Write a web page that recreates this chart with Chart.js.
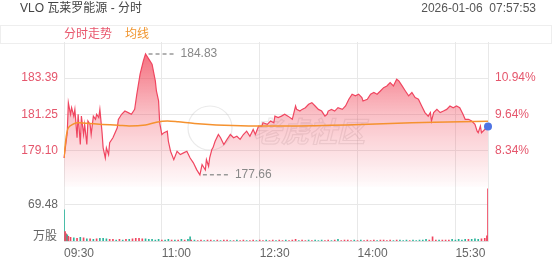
<!DOCTYPE html>
<html>
<head>
<meta charset="utf-8">
<script src="https://cdn.jsdelivr.net/npm/chart.js@4.4.1/dist/chart.umd.min.js"></script>
<style>
  body { margin: 0; background: #fff; }
  #wrap { position: relative; width: 552px; height: 265px; overflow: hidden;
          font-family: Arial, "Liberation Sans", "Noto Sans CJK SC", sans-serif; font-size: 12px; }
  #wrap canvas { position: absolute; left: 0; top: 0; }
  .txt { position: absolute; line-height: 14px; white-space: pre; }
  #tabs { position: absolute; left: 0; top: 25px; width: 550px; height: 17px; border: 1px solid #eee; }
</style>
</head>
<body>
<div id="wrap">
  <div id="tabs"></div>
  <canvas id="chart" width="552" height="265"></canvas>
  <div class="txt" style="left:20px;top:1px;color:#444">VLO 瓦莱罗能源 - 分时</div>
  <div class="txt" style="right:16px;top:1px;color:#555">2026-01-06  07:57:53</div>
  <div class="txt" style="left:64px;top:27px;color:#e8566c">分时走势</div>
  <div class="txt" style="left:125px;top:27px;color:#f0952e">均线</div>
  <div class="txt" style="right:495px;top:229px;color:#666">万股</div>
</div>
<script>
// 分时数据 (minutes after 09:30)
var prevClose = 165.31
var priceTicks = [179.10, 181.25, 183.39]
var volTicks = [69.48]
var xTickLabels = ['09:30', '11:00', '12:30', '14:00', '15:30']

var times = [0, 3, 4, 6, 7, 9, 10, 12, 13, 15, 16, 18, 19, 21, 22, 24, 25, 27, 29, 30,
    32, 33, 35, 36, 38, 39, 41, 42, 45, 49, 50, 53, 56, 59, 62, 65, 67, 70, 73, 75,
    78, 81, 84, 85, 87, 88, 90, 92, 95, 96, 98, 101, 104, 107, 110, 113, 116, 119, 122, 125,
    127, 130, 131, 133, 134, 136, 137, 139, 142, 144, 147, 150, 153, 156, 159, 162, 165, 168, 171, 174,
    176, 179, 182, 183, 187, 190, 193, 194, 197, 200, 203, 206, 210, 213, 214, 217, 219, 222, 225, 228,
    231, 234, 237, 240, 242, 243, 246, 249, 252, 256, 259, 262, 265, 268, 271, 274, 275, 279, 282, 285,
    288, 291, 294, 297, 300, 303, 306, 308, 311, 314, 317, 320, 323, 326, 329, 332, 335, 337, 338, 340,
    343, 346, 349, 352, 355, 358, 361, 364, 367, 369, 372, 375, 378, 380, 381, 383, 384, 387, 390]
var prices = [178.66, 180.16, 181.94, 181.25, 181.64, 181.14, 181.54, 179.86, 181.25, 179.46,
    181.14, 180.05, 180.65, 179.46, 180.85, 180.65, 180.05, 181.14, 180.95, 181.25,
    181.05, 181.54, 180.16, 179.26, 178.66, 179.26, 178.86, 179.56, 179.86, 180.45,
    180.95, 181.25, 181.44, 181.35, 181.25, 181.54, 182.44, 183.63, 184.42, 184.83,
    184.52, 184.22, 183.23, 182.63, 182.04, 180.75, 180.05, 180.16, 180.25, 179.65,
    179.06, 178.56, 179.06, 178.86, 178.96, 179.06, 178.66, 178.37, 177.97, 177.66,
    178.27, 177.95, 178.56, 178.17, 178.66, 179.16, 179.26, 179.65, 180.05, 179.86,
    179.46, 179.76, 180.05, 179.86, 179.95, 179.76, 180.05, 180.25, 179.95, 180.35,
    180.05, 180.55, 180.55, 180.75, 180.65, 180.85, 180.75, 181.14, 181.05, 181.14,
    181.25, 181.14, 180.95, 181.74, 181.54, 181.44, 181.54, 181.64, 181.84, 181.94,
    181.74, 181.54, 181.44, 181.14, 181.25, 181.44, 181.54, 181.44, 181.64, 181.54,
    181.74, 182.14, 182.44, 182.34, 182.44, 182.24, 182.04, 182.14, 182.44, 182.54,
    182.44, 182.63, 182.83, 182.93, 183.13, 182.93, 183.33, 183.23, 182.93, 182.63,
    182.34, 182.54, 182.24, 182.14, 181.74, 181.35, 181.14, 181.35, 180.85, 181.35,
    181.54, 181.35, 181.44, 181.54, 181.74, 181.64, 181.74, 181.64, 181.25, 180.95,
    180.95, 180.85, 180.65, 180.25, 180.16, 180.55, 180.16, 180.35, 180.53]

var avgTimes = [0, 2, 4, 8, 12, 20, 35, 50, 60, 75, 85, 95, 105, 120, 140, 170, 200, 230, 260, 300, 340, 390]
var avgPrices = [178.66, 179.9, 180.45, 180.65, 180.75, 180.72, 180.65, 180.6, 180.55, 180.62, 180.78,
    180.85, 180.8, 180.7, 180.62, 180.56, 180.55, 180.57, 180.62, 180.7, 180.78, 180.83]

var volTimes = [0, 1, 2, 3, 4, 6, 9, 12, 15, 18, 21, 24, 27, 30, 33, 36, 39, 42, 45, 48,
    51, 54, 57, 60, 63, 66, 69, 72, 75, 78, 81, 84, 87, 90, 93, 96, 99, 102, 105, 108,
    111, 114, 116, 117, 120, 123, 126, 129, 132, 135, 138, 141, 144, 147, 150, 153, 156, 159, 162, 165,
    168, 171, 174, 177, 180, 183, 186, 189, 192, 195, 198, 201, 204, 207, 210, 213, 216, 219, 222, 225,
    228, 231, 234, 237, 240, 243, 246, 249, 252, 255, 258, 261, 264, 267, 270, 273, 276, 279, 282, 285,
    288, 291, 294, 297, 300, 303, 306, 309, 312, 315, 318, 321, 324, 327, 330, 333, 336, 339, 342, 345,
    348, 351, 354, 357, 360, 363, 366, 369, 372, 375, 378, 381, 384, 387, 389, 390]
var vols = [60, 18, 14, 12, 9, 7, 6, 5, 7, 6, 4, 4, 3, 4, 5, 5, 4, 3, 3, 2,
    3, 2, 3, 3, 4, 5, 5, 4, 4, 3, 3, 2, 3, 2, 2, 3, 2, 2, 2, 3,
    2, 3, 8, 2, 2, 1, 2, 1, 2, 2, 1, 2, 1, 2, 2, 1, 1, 2, 1, 2,
    1, 1, 2, 1, 2, 1, 2, 1, 2, 1, 2, 1, 2, 1, 2, 3, 1, 2, 1, 2,
    1, 2, 1, 2, 1, 2, 1, 2, 3, 1, 2, 2, 1, 2, 1, 2, 1, 2, 1, 2,
    1, 2, 2, 1, 2, 1, 2, 2, 1, 2, 1, 2, 1, 2, 2, 3, 2, 8, 2, 2,
    2, 2, 2, 3, 2, 3, 2, 3, 3, 3, 4, 3, 4, 5, 10, 100]
// 1 = up (red), 0 = down (green)
var volUp = [0, 1, 1, 0, 1, 1, 0, 1, 0, 1, 0, 1, 0, 1, 0, 0, 0, 1, 1, 0,
    1, 0, 1, 0, 1, 1, 1, 1, 0, 0, 0, 0, 0, 1, 0, 0, 1, 0, 1, 0,
    1, 0, 0, 1, 0, 1, 1, 0, 1, 1, 0, 1, 0, 1, 1, 0, 1, 0, 1, 1,
    0, 1, 1, 0, 1, 1, 0, 1, 1, 0, 1, 1, 0, 1, 1, 1, 0, 1, 1, 0,
    1, 0, 0, 0, 1, 1, 0, 1, 0, 1, 1, 1, 1, 0, 1, 0, 1, 1, 1, 1,
    0, 1, 1, 1, 1, 0, 1, 0, 0, 0, 1, 0, 0, 0, 0, 0, 1, 1, 1, 0,
    1, 1, 1, 0, 0, 0, 0, 0, 1, 0, 0, 0, 1, 1, 1, 1]

var RED = '#f04660'
var GREEN = '#2ab59b'
var GRID = '#e8e8e8'

function tickMinutes(label) {
    var p = label.split(':')
    return +p[0] * 60 + +p[1] - 570
}

var step = (priceTicks[2] - priceTicks[0]) / 2
var priceMin = priceTicks[0] - step
var priceMax = priceTicks[2] + step

function pct(p) { return (p / prevClose - 1) * 100 }

// 高低点标注 + 水印
var markPlugin = {
    id: 'marks',
    beforeDatasetsDraw: function(chart) {
        var c = chart.ctx
        c.save()
        c.strokeStyle = 'rgba(170,170,170,0.25)'
        c.lineWidth = 1.2
        c.beginPath()
        c.arc(210, 128, 22, 0, Math.PI * 2)
        c.stroke()
        c.font = 'italic bold 28px "Noto Sans CJK SC"'
        c.textBaseline = 'middle'
        c.strokeText('老虎社区', 253, 131)
        c.restore()
    },
    afterDatasetsDraw: function(chart) {
        var c = chart.ctx
        var xs = chart.scales.x, ys = chart.scales.y
        var hi = prices.indexOf(Math.max.apply(null, prices))
        var lo = prices.indexOf(Math.min.apply(null, prices))
        c.save()
        c.font = '12px Arial, "Liberation Sans"'
        c.textBaseline = 'middle'
        ;[hi, lo].forEach(function(i) {
            var px = xs.getPixelForValue(times[i])
            var py = ys.getPixelForValue(prices[i])
            c.strokeStyle = '#999'
            c.lineWidth = 1.5
            c.setLineDash([4, 3])
            c.beginPath()
            c.moveTo(px + 3, py)
            c.lineTo(px + 29, py)
            c.stroke()
            c.fillStyle = '#888'
            c.fillText(prices[i].toFixed(2), px + 35, py)
        })
        c.restore()
    }
}

var ctx = document.getElementById('chart').getContext('2d')
var myChart = new Chart(ctx, {
    type: 'line',
    data: {
        datasets: [{
            label: '分时',
            data: times.map(function(t, i) { return {x: t, y: prices[i]} }),
            yAxisID: 'y',
            borderColor: RED,
            borderWidth: 1.2,
            tension: 0,
            clip: false,
            fill: 'start',
            backgroundColor: function(context) {
                var chart = context.chart
                var ys = chart.scales.y
                if (!ys || !isFinite(ys.top) || !isFinite(ys.bottom) || ys.bottom <= ys.top) return 'rgba(240,70,96,0.3)'
                var g = chart.ctx.createLinearGradient(0, ys.top, 0, ys.bottom)
                g.addColorStop(0, 'rgba(240,60,80,0.8)')
                g.addColorStop(0.5, 'rgba(240,60,80,0.32)')
                g.addColorStop(1, 'rgba(240,60,80,0.02)')
                return g
            },
            pointRadius: function(context) { return context.dataIndex === prices.length - 1 ? 4 : 0 },
            pointBackgroundColor: '#4f74e3',
            pointBorderWidth: 0,
            order: 2
        }, {
            label: '均线',
            data: avgTimes.map(function(t, i) { return {x: t, y: avgPrices[i]} }),
            yAxisID: 'y',
            borderColor: '#f5922f',
            borderWidth: 1.5,
            pointRadius: 0,
            tension: 0.3,
            fill: false,
            order: 1
        }, {
            type: 'bar',
            label: '成交量',
            data: volTimes.map(function(t, i) { return {x: t, y: vols[i]} }),
            yAxisID: 'yv',
            backgroundColor: volUp.map(function(u) { return u ? RED : GREEN }),
            barThickness: 1,
            order: 3
        }]
    },
    options: {
        animation: false,
        responsive: false,
        layout: { padding: { top: 42, left: 0, right: 0, bottom: 0 } },
        plugins: { legend: { display: false }, tooltip: { enabled: false } },
        scales: {
            x: {
                type: 'linear',
                min: 0,
                max: 390,
                offset: false,
                afterBuildTicks: function(s) { s.ticks = xTickLabels.map(function(l) { return {value: tickMinutes(l)} }) },
                afterFit: function(s) { s.height = 24 },
                ticks: {
                    align: 'start',
                    padding: 5,
                    color: '#666',
                    font: { size: 12 },
                    maxRotation: 0,
                    callback: function(v, i) { return xTickLabels[i] }
                },
                grid: { color: GRID, drawTicks: false, offset: false },
                border: { color: '#ddd' }
            },
            y: {
                position: 'left',
                stack: 'main',
                stackWeight: 8,
                weight: 2,
                min: priceMin,
                max: priceMax,
                afterBuildTicks: function(s) { s.ticks = priceTicks.map(function(v) { return {value: v} }) },
                afterFit: function(s) { s.width = 64 },
                ticks: { padding: 6, color: '#e5566c', font: { size: 12 }, callback: function(v) { return v.toFixed(2) } },
                grid: { color: GRID, drawTicks: false },
                border: { display: false }
            },
            yv: {
                position: 'left',
                stack: 'main',
                stackWeight: 3,
                weight: 1,
                min: 0,
                max: volTicks[0] * 1.5,
                afterBuildTicks: function(s) { s.ticks = volTicks.map(function(v) { return {value: v} }) },
                afterFit: function(s) { s.width = 64 },
                ticks: { padding: 6, color: '#666', font: { size: 12 }, callback: function(v) { return v.toFixed(2) } },
                grid: { color: GRID, drawTicks: false },
                border: { display: false }
            },
            yr: {
                position: 'right',
                stack: 'right',
                stackWeight: 8,
                weight: 1,
                min: pct(priceMin),
                max: pct(priceMax),
                afterBuildTicks: function(s) { s.ticks = priceTicks.map(function(v) { return {value: pct(v)} }) },
                afterFit: function(s) { s.width = 64 },
                ticks: { padding: 7, color: '#e5566c', font: { size: 12 }, callback: function(v) { return v.toFixed(2) + '%' } },
                grid: { display: false, drawTicks: false },
                border: { display: true, color: GRID }
            },
            yvr: {
                position: 'right',
                stack: 'right',
                stackWeight: 3,
                weight: 2,
                min: 0,
                max: 1,
                afterFit: function(s) { s.width = 64 },
                ticks: { display: false },
                grid: { display: false, drawTicks: false },
                border: { display: true, color: GRID }
            }
        }
    },
    plugins: [markPlugin]
})
</script>
</body>
</html>
